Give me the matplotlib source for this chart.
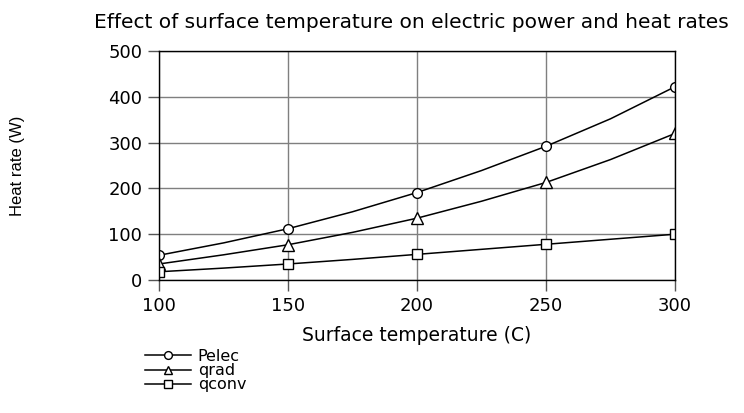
import matplotlib.pyplot as plt
from matplotlib import font_manager

# surface temperature (C) and heat rates (W)
temps = [100, 125, 150, 175, 200, 225, 250, 275, 300]
pelec = [54, 81, 112, 149, 191, 239, 292, 352, 422]
qrad = [35, 55, 77, 104, 135, 172, 213, 263, 320]
qconv = [18, 26, 35, 45, 56, 67, 78, 89, 100]

x_ticks = [100, 150, 200, 250, 300]
y_ticks = [0, 100, 200, 300, 400, 500]

names = {f.name for f in font_manager.fontManager.ttflist}
NARROW = "Liberation Sans Narrow" if "Liberation Sans Narrow" in names else "Liberation Sans"
plt.rcParams["font.family"] = ["DejaVu Sans"]

fig = plt.figure(figsize=(7.44, 4.13), dpi=100)
ax = fig.add_axes([0.2137, 0.322, 0.6936, 0.5545])

mk = dict(color="black", lw=1.1, markerfacecolor="white", markeredgecolor="black",
          markeredgewidth=1.0, markevery=2)
ax.plot(temps, pelec, marker="o", markersize=7, label="Pelec", **mk)
ax.plot(temps, qrad, marker="^", markersize=8, label="qrad", **mk)
ax.plot(temps, qconv, marker="s", markersize=6.5, label="qconv", **mk)

ax.set_xlim(100, 300)
ax.set_ylim(0, 500)
ax.set_xticks(x_ticks)
ax.set_yticks(y_ticks)
ax.grid(True, color="#7f7f7f", lw=1.0)
ax.set_axisbelow(True)
for s in ax.spines.values():
    s.set_color("black")
    s.set_linewidth(1.0)
ax.tick_params(direction="out", length=8, width=1, color="#555555", labelsize=13, pad=4)

ax.set_xlabel("Surface temperature (C)", fontsize=13.5, labelpad=8)
ax.set_ylabel("Heat rate (W)", fontsize=12, family=[NARROW, "DejaVu Sans"])
ax.yaxis.set_label_coords(-0.26, 0.5)

fig.text(0.553, 0.945, "Effect of surface temperature on electric power and heat rates",
         ha="center", va="center", fontsize=14.5)

handles, labels = ax.get_legend_handles_labels()
leg = fig.legend(handles, labels, loc="upper left",
                 bbox_to_anchor=(0.195, 1 - 349 / 413),
                 frameon=False, fontsize=11.5, handlelength=2.9, handletextpad=0.4,
                 labelspacing=-0.05, borderpad=0, borderaxespad=0, markerscale=0.8)

fig.savefig("out.png", dpi=100)
